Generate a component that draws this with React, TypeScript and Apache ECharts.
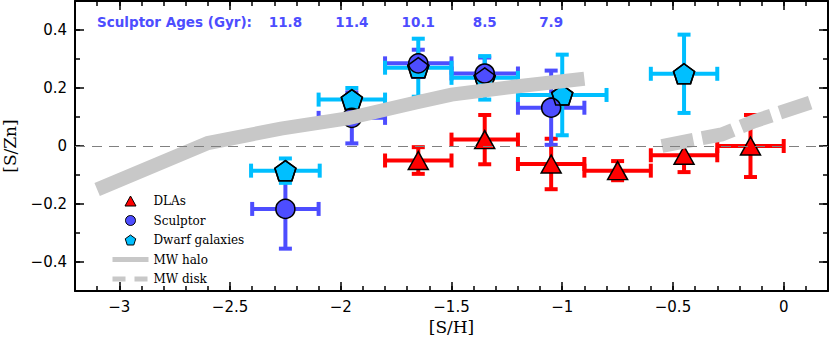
import React, { useEffect, useRef } from "react";
import * as echarts from "echarts";

// ---- axes ----
const X_MIN = -3.2;
const X_MAX = 0.2;
const Y_MIN = -0.5;
const Y_MAX = 0.5;
const X_MAJOR = [-3, -2.5, -2, -1.5, -1, -0.5, 0];
const Y_MAJOR = [-0.4, -0.2, 0, 0.2, 0.4];

// ---- DLAs ----
const DLA_X = [-1.65, -1.35, -1.05, -0.75, -0.45, -0.15];
const DLA_Y = [-0.05, 0.022, -0.062, -0.085, -0.032, 0.0];
const DLA_XERR = [0.15, 0.15, 0.15, 0.15, 0.15, 0.15];
const DLA_YERR = [0.046, 0.085, 0.087, 0.033, 0.058, 0.107];

// ---- Sculptor ----
const SCL_X = [-2.25, -1.95, -1.65, -1.35, -1.05];
const SCL_Y = [-0.217, 0.097, 0.285, 0.25, 0.132];
const SCL_XERR = [0.15, 0.15, 0.15, 0.15, 0.15];
const SCL_YERR = [0.137, 0.088, 0.047, 0.055, 0.128];
const SCL_AGES = ["11.8", "11.4", "10.1", "8.5", "7.9"];
const AGES_ROW_Y = 0.428;

// ---- Dwarf galaxies ----
const DW_X = [-2.25, -1.95, -1.65, -1.35, -1.0, -0.45];
const DW_Y = [-0.085, 0.16, 0.27, 0.235, 0.176, 0.249];
const DW_XERR = [0.155, 0.15, 0.15, 0.15, 0.2, 0.15];
const DW_YERR = [0.042, 0.04, 0.1, 0.075, 0.139, 0.135];

// ---- MW trends ----
const HALO_X = [-3.1, -2.6, -2.27, -1.97, -1.66, -1.5, -1.2, -0.9];
const HALO_Y = [-0.15, 0.01, 0.06, 0.095, 0.15, 0.177, 0.206, 0.232];
const DISK_X = [-0.55, -0.28, -0.13, 0.12];
const DISK_Y = [0.0, 0.04, 0.086, 0.15];

const RED = "#ff0000";
const BLUE = "#4d4dff";
const CYAN = "#00bfff";
const GREY = "#c8c8c8";
const PENTAGON =
  "path://M0,-1L0.951,-0.309L0.588,0.809L-0.588,0.809L-0.951,-0.309Z";
const TRIANGLE_ICON = "path://M0,-1L1.1,1L-1.1,1Z";

const minus = (v: number) => String(v).replace("-", "\u2212");

function majorAxis(position: string, labels: boolean, values: number[], extra: any) {
  return {
    type: "value",
    position,
    ...extra,
    splitLine: { show: false },
    axisLine: { show: true, onZero: false, lineStyle: { color: "#000", width: 2 } },
    axisTick: {
      show: true,
      inside: true,
      length: 9,
      customValues: values,
      lineStyle: { color: "#000", width: 1.5 },
    },
    axisLabel: labels
      ? {
          show: true,
          customValues: values,
          formatter: (v: number) => minus(v),
          color: "#000",
          fontFamily: "DejaVu Sans",
          fontSize: 15,
          margin: 8,
        }
      : { show: false },
  };
}

function minorAxis(position: string, extra: any) {
  return {
    type: "value",
    position,
    ...extra,
    interval: 0.1,
    splitLine: { show: false },
    axisLine: { show: false, onZero: false },
    axisTick: { show: true, inside: true, length: 5, lineStyle: { color: "#000", width: 1.5 } },
    axisLabel: { show: false },
  };
}

function errSeries(name: string, xs: number[], ys: number[], xe: number[], ye: number[], color: string) {
  return {
    type: "custom",
    name,
    silent: true,
    encode: { x: 0, y: 1 },
    data: xs.map((x, i) => [x, ys[i], xe[i], ye[i]]),
    renderItem: (_p: any, api: any) => {
      const x = api.value(0);
      const y = api.value(1);
      const dx = api.value(2);
      const dy = api.value(3);
      const l = api.coord([x - dx, y]);
      const r = api.coord([x + dx, y]);
      const t = api.coord([x, y + dy]);
      const b = api.coord([x, y - dy]);
      const style = { stroke: color, lineWidth: 4, fill: "none" };
      const cx = 7;
      const cy = 6.5;
      return {
        type: "group",
        children: [
          { type: "line", shape: { x1: l[0], y1: l[1], x2: r[0], y2: r[1] }, style },
          { type: "line", shape: { x1: t[0], y1: t[1], x2: b[0], y2: b[1] }, style },
          { type: "line", shape: { x1: l[0], y1: l[1] - cx, x2: l[0], y2: l[1] + cx }, style },
          { type: "line", shape: { x1: r[0], y1: r[1] - cx, x2: r[0], y2: r[1] + cx }, style },
          { type: "line", shape: { x1: t[0] - cy, y1: t[1], x2: t[0] + cy, y2: t[1] }, style },
          { type: "line", shape: { x1: b[0] - cy, y1: b[1], x2: b[0] + cy, y2: b[1] }, style },
        ],
      };
    },
  };
}

export default function App() {
  const ref = useRef<HTMLDivElement>(null);
  useEffect(() => {
    if (!ref.current) return;
    const chart = echarts.init(ref.current, null, { renderer: "svg" });
    const xr = { min: X_MIN, max: X_MAX };
    const yr = { min: Y_MIN, max: Y_MAX };
    const option: any = {
      animation: false,
      grid: {
        left: 75,
        right: 2,
        top: 1,
        bottom: 49,
        containLabel: false,
        outerBoundsMode: "none",
      },
      xAxis: [
        majorAxis("bottom", true, X_MAJOR, {
          ...xr,
          name: "[S/H]",
          nameLocation: "middle",
          nameGap: 27,
          nameTextStyle: { fontFamily: "DejaVu Serif", fontSize: 17, color: "#000" },
        }),
        minorAxis("bottom", xr),
        majorAxis("top", false, X_MAJOR, xr),
        minorAxis("top", xr),
      ],
      yAxis: [
        majorAxis("left", true, Y_MAJOR, {
          ...yr,
          name: "[S/Zn]",
          nameLocation: "middle",
          nameGap: 57,
          nameTextStyle: { fontFamily: "DejaVu Serif", fontSize: 17, color: "#000" },
        }),
        minorAxis("left", yr),
        majorAxis("right", false, Y_MAJOR, yr),
        minorAxis("right", yr),
      ],
      legend: {
        orient: "vertical",
        left: 110,
        top: 195,
        padding: 0,
        itemWidth: 36,
        itemHeight: 10,
        itemGap: 7.5,
        selectedMode: false,
        symbolKeepAspect: true,
        textStyle: { fontFamily: "DejaVu Serif", fontSize: 12, color: "#000" },
        itemStyle: { borderColor: "#000", borderWidth: 1 },
        data: [
          { name: "DLAs", icon: TRIANGLE_ICON },
          { name: "Sculptor", icon: "circle" },
          { name: "Dwarf galaxies", icon: PENTAGON },
          {
            name: "MW halo",
            lineStyle: { width: 5, color: GREY, type: "solid" },
            itemStyle: { opacity: 0, borderWidth: 0 },
          },
          {
            name: "MW disk",
            lineStyle: { width: 5, color: GREY, type: [13, 9] },
            itemStyle: { opacity: 0, borderWidth: 0 },
          },
        ],
      },
      graphic: [
        {
          type: "text",
          x: 97,
          y: 22,
          silent: true,
          style: {
            text: "Sculptor Ages (Gyr):",
            fill: BLUE,
            fontFamily: "DejaVu Sans",
            fontWeight: "bold",
            fontSize: 13.5,
            align: "left",
            verticalAlign: "middle",
          },
        },
      ],
      series: [
        {
          type: "line",
          name: "zero",
          data: [],
          silent: true,
          markLine: {
            silent: true,
            symbol: "none",
            label: { show: false },
            lineStyle: { color: "#808080", width: 1, type: [10, 7] },
            data: [{ yAxis: 0 }],
          },
        },
        {
          type: "line",
          name: "MW halo",
          silent: true,
          symbol: "none",
          data: HALO_X.map((x, i) => [x, HALO_Y[i]]),
          lineStyle: { color: GREY, width: 14, join: "miter", cap: "butt" },
          itemStyle: { color: GREY },
        },
        {
          type: "line",
          name: "MW disk",
          silent: true,
          symbol: "none",
          data: DISK_X.map((x, i) => [x, DISK_Y[i]]),
          lineStyle: { color: GREY, width: 14, type: [32, 9], join: "miter", cap: "butt" },
          itemStyle: { color: GREY },
        },
        errSeries("DLAs err", DLA_X, DLA_Y, DLA_XERR, DLA_YERR, RED),
        {
          type: "scatter",
          name: "DLAs",
          silent: true,
          symbol: "triangle",
          symbolSize: [20, 18],
          data: DLA_X.map((x, i) => [x, DLA_Y[i]]),
          itemStyle: { color: RED, borderColor: "#000", borderWidth: 1.5, opacity: 1 },
        },
        errSeries("Sculptor err", SCL_X, SCL_Y, SCL_XERR, SCL_YERR, BLUE),
        errSeries("Dwarf err", DW_X, DW_Y, DW_XERR, DW_YERR, CYAN),
        {
          type: "scatter",
          name: "Dwarf galaxies",
          silent: true,
          symbol: PENTAGON,
          symbolSize: [21, 20],
          data: DW_X.map((x, i) => [x, DW_Y[i]]),
          itemStyle: { color: CYAN, borderColor: "#000", borderWidth: 1.5, opacity: 1 },
        },
        {
          type: "scatter",
          name: "Sculptor",
          silent: true,
          symbol: "circle",
          symbolSize: 19,
          data: SCL_X.map((x, i) => [x, SCL_Y[i]]),
          itemStyle: { color: BLUE, borderColor: "#000", borderWidth: 1.5, opacity: 1 },
        },
        {
          type: "scatter",
          name: "Dwarf outline",
          silent: true,
          symbol: PENTAGON,
          symbolSize: [21, 20],
          data: DW_X.map((x, i) => [x, DW_Y[i]]),
          itemStyle: { color: "none", borderColor: "#000", borderWidth: 1.5, opacity: 1 },
        },
        {
          type: "custom",
          name: "ages",
          silent: true,
          encode: { x: 0, y: 1 },
          data: SCL_X.map((x, i) => [x, AGES_ROW_Y, i]),
          renderItem: (_p: any, api: any) => {
            const pt = api.coord([api.value(0), api.value(1)]);
            return {
              type: "text",
              x: pt[0],
              y: pt[1],
              style: {
                text: SCL_AGES[api.value(2)],
                fill: BLUE,
                fontFamily: "DejaVu Sans",
                fontWeight: "bold",
                fontSize: 13.5,
                align: "center",
                verticalAlign: "middle",
              },
            };
          },
        },
      ],
    };
    chart.setOption(option);
    return () => chart.dispose();
  }, []);
  return (
    <div
      ref={ref}
      style={{ position: "fixed", left: 0, top: 0, width: 830, height: 340, background: "#fff" }}
    />
  );
}
